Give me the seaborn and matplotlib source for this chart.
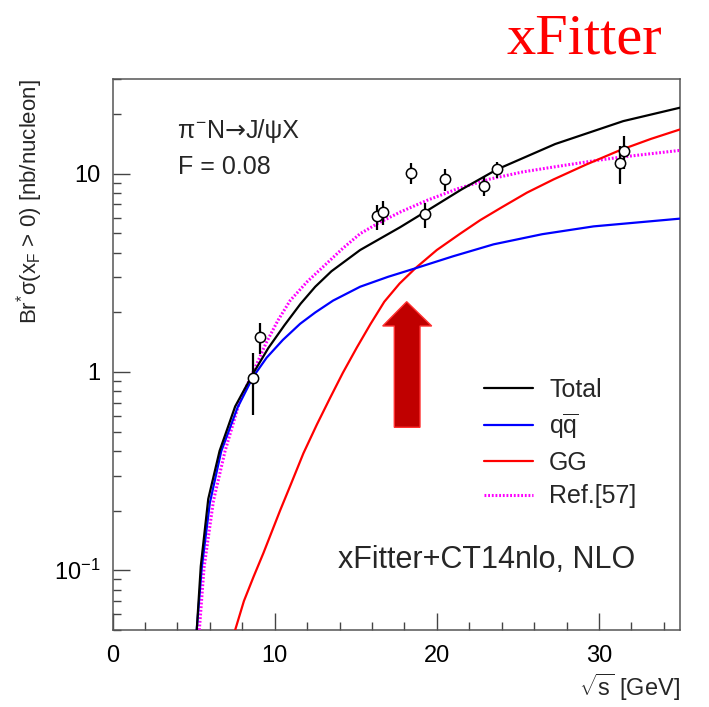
import numpy as np
import pandas as pd
import matplotlib
matplotlib.use("Agg")
import matplotlib.pyplot as plt
from matplotlib.patches import Polygon
from matplotlib.lines import Line2D
from matplotlib.ticker import FixedLocator, FuncFormatter, NullFormatter
import seaborn as sns

# ---- measured J/psi cross sections (pi- N) ----
data_sqrts = [8.65, 9.10, 16.34, 16.67, 18.40, 19.28, 20.52, 22.89, 23.71, 31.32, 31.57]
data_sigma = [0.93, 1.50, 6.09, 6.40, 10.07, 6.23, 9.36, 8.63, 10.50, 11.30, 13.00]
data_err = [0.32, 0.27, 0.87, 0.90, 1.25, 0.88, 1.15, 0.95, 0.95, 2.45, 2.45]

# ---- theory curves ----
total_sqrts = [5.19, 5.44, 5.9, 6.6, 7.56, 8.65, 9.6, 10.6, 11.6, 12.5, 13.5, 15.27,
               17.74, 19.1, 21.5, 23.71, 27.3, 31.5, 35.0]
total_sigma = [0.05, 0.105, 0.229, 0.40, 0.67, 0.977, 1.318, 1.72, 2.21, 2.69, 3.22,
               4.12, 5.37, 6.28, 8.3, 10.5, 14.1, 18.4, 21.5]

qq_sqrts = [5.19, 5.5, 6.0, 6.7, 7.7, 8.65, 9.5, 10.5, 11.57, 12.5, 13.6, 15.27, 17.0,
            18.67, 21.0, 23.5, 26.5, 29.67, 35.0]
qq_sigma = [0.05, 0.103, 0.219, 0.398, 0.66, 0.94, 1.18, 1.45, 1.75, 1.995, 2.29,
            2.69, 3.02, 3.33, 3.83, 4.40, 4.95, 5.42, 5.93]

gg_sqrts = [7.56, 8.1, 8.7, 9.3, 10.33, 11.0, 11.77, 12.6, 13.42, 14.2, 15.07, 15.9,
            16.76, 17.7, 18.67, 20.0, 21.44, 22.68, 24.0, 25.56, 27.2, 29.2, 31.32, 33.2, 35.0]
gg_sigma = [0.05, 0.07, 0.093, 0.122, 0.20, 0.272, 0.389, 0.543, 0.741, 0.989, 1.33, 1.74,
            2.26, 2.79, 3.33, 4.12, 4.98, 5.83, 6.76, 8.02, 9.35, 11.1, 13.15, 14.96, 16.7]

ref_sqrts = [5.35, 5.64, 6.22, 6.94, 7.86, 8.79, 9.47, 10.2, 10.95, 12.0, 13.0, 14.2,
             15.27, 16.34, 17.74, 19.39, 21.3, 23.3, 25.3, 27.2, 29.67, 31.32, 35.0]
ref_sigma = [0.05, 0.103, 0.224, 0.40, 0.72, 1.05, 1.40, 1.82, 2.29, 2.85, 3.4, 4.2,
             4.98, 5.6, 6.4, 7.33, 8.4, 9.4, 10.2, 10.8, 11.6, 12.1, 13.1]

legend_labels = ["Total", r"q$\overline{\rm q}$", "GG", "Ref.[57]"]

sns.set_theme(style="ticks")
plt.rcParams["font.family"] = ["Liberation Sans", "DejaVu Sans"]
plt.rcParams["mathtext.fontset"] = "custom"
plt.rcParams["mathtext.rm"] = "Liberation Sans"
plt.rcParams["mathtext.it"] = "Liberation Sans"
plt.rcParams["mathtext.sf"] = "Liberation Sans"
plt.rcParams["mathtext.bf"] = "Liberation Sans:bold"

W, H = 709, 707
fig = plt.figure(figsize=(W / 100, H / 100), dpi=100)


def fx(x):
    return x / W


def fy(y):
    return 1 - y / H


ax = fig.add_axes([fx(112.6), fy(630), fx(680) - fx(112.6), fy(79) - fy(630)])

curves = pd.concat([
    pd.DataFrame({"sqrts": total_sqrts, "sigma": total_sigma, "curve": "Total"}),
    pd.DataFrame({"sqrts": qq_sqrts, "sigma": qq_sigma, "curve": "qq"}),
    pd.DataFrame({"sqrts": gg_sqrts, "sigma": gg_sigma, "curve": "GG"}),
    pd.DataFrame({"sqrts": ref_sqrts, "sigma": ref_sigma, "curve": "Ref"}),
])
palette = {"Total": "#000000", "qq": "#0000ff", "GG": "#ff0000", "Ref": "#ff00ff"}

for name in ["Ref", "GG", "qq", "Total"]:
    sub = curves[curves["curve"] == name]
    sns.lineplot(data=sub, x="sqrts", y="sigma", ax=ax, color=palette[name],
                 lw=1.6 if name != "Ref" else 2.2, sort=False, estimator=None,
                 legend=False, zorder=3)
    ax.lines[-1].set_solid_joinstyle("round")
    if name == "Ref":
        ax.lines[-1].set_dashes((0.6, 0.6))

ax.errorbar(data_sqrts, data_sigma, yerr=data_err, fmt="none", ecolor="black",
            elinewidth=1.6, capsize=0, zorder=4)
sns.scatterplot(x=data_sqrts, y=data_sigma, ax=ax, marker="o", s=55,
                facecolor="white", edgecolor="black", linewidth=1.1, zorder=5)

ax.set_yscale("log")
ax.set_xlim(0, 35)
ax.set_ylim(0.05, 30)

ax.xaxis.set_major_locator(FixedLocator([0, 10, 20, 30]))
ax.xaxis.set_minor_locator(FixedLocator(np.arange(0, 35.1, 2)))
ax.yaxis.set_major_locator(FixedLocator([0.1, 1, 10]))
minor_y = [m * 10.0 ** e for e in (-2, -1, 0, 1) for m in range(2, 10)]
ax.yaxis.set_minor_locator(FixedLocator([v for v in minor_y if 0.05 <= v <= 30]))
ax.yaxis.set_minor_formatter(NullFormatter())
ylab = {0.1: r"$10^{-1}$", 1: "1", 10: "10"}
ax.yaxis.set_major_formatter(FuncFormatter(lambda v, p: ylab.get(round(v, 3), "")))

ax.tick_params(which="both", direction="in", top=False, right=False, colors="#444444",
               labelcolor="black", labelsize=17, width=1.0)
ax.tick_params(which="major", length=12)
ax.tick_params(which="minor", length=6)
ax.tick_params(axis="y", pad=9)
ax.tick_params(axis="x", pad=11)
for sp in ax.spines.values():
    sp.set_color("#555555")
    sp.set_linewidth(1.1)

ax.set_xlabel(r"$\sqrt{s}$ [GeV]", fontsize=17, loc="right")
ax.xaxis.set_label_coords(1.0, -0.075)
ax.set_ylabel(r"Br$^{*}$$\sigma$(x$_{\rm F}$ > 0) [nb/nucleon]", fontsize=16, loc="top")
ax.yaxis.set_label_coords(-0.12, 1.0)

handles = [
    Line2D([], [], color="#000000", lw=1.6),
    Line2D([], [], color="#0000ff", lw=1.6),
    Line2D([], [], color="#ff0000", lw=1.6),
    Line2D([], [], color="#ff00ff", lw=2.2, dashes=(0.6, 0.6)),
]
fig.legend(handles, legend_labels, loc="upper left",
           bbox_to_anchor=(fx(484), fy(378)), frameon=False, fontsize=18,
           handlelength=1.95, handletextpad=0.65, labelspacing=0.38, borderpad=0,
           borderaxespad=0)

# reaction label: pieces chained so the arrow can use a font with a longer glyph
renderer = fig.canvas.get_renderer()
x_cursor = 177.0
for piece, fam in [(r"$\pi^{-}$N", None), ("→", "DejaVu Sans"), ("J/ψX", None)]:
    kw = {"family": fam} if fam else {}
    t = fig.text(fx(x_cursor), fy(138), piece, fontsize=18, ha="left", va="baseline", **kw)
    x_cursor += t.get_window_extent(renderer).width

fig.text(fx(178), fy(174), "F = 0.08", fontsize=18, ha="left", va="baseline")
fig.text(fx(338), fy(568), "xFitter+CT14nlo, NLO", fontsize=22, ha="left", va="baseline")
fig.text(fx(584), fy(53), "xFitter", fontsize=42, color="#ff0000",
         family="Liberation Serif", ha="center", va="baseline")

# highlight arrow pointing at the qq/GG crossing
arrow_px = [(406.7, 301.7), (382.7, 326), (394.3, 326), (394.3, 427.3),
            (420, 427.3), (420, 326), (431.7, 326)]
fig.patches.append(Polygon([(fx(x), fy(y)) for x, y in arrow_px], closed=True,
                           transform=fig.transFigure, facecolor="#c00000",
                           edgecolor="#ff3030", lw=1.0))

fig.savefig("out.png", dpi=100)
